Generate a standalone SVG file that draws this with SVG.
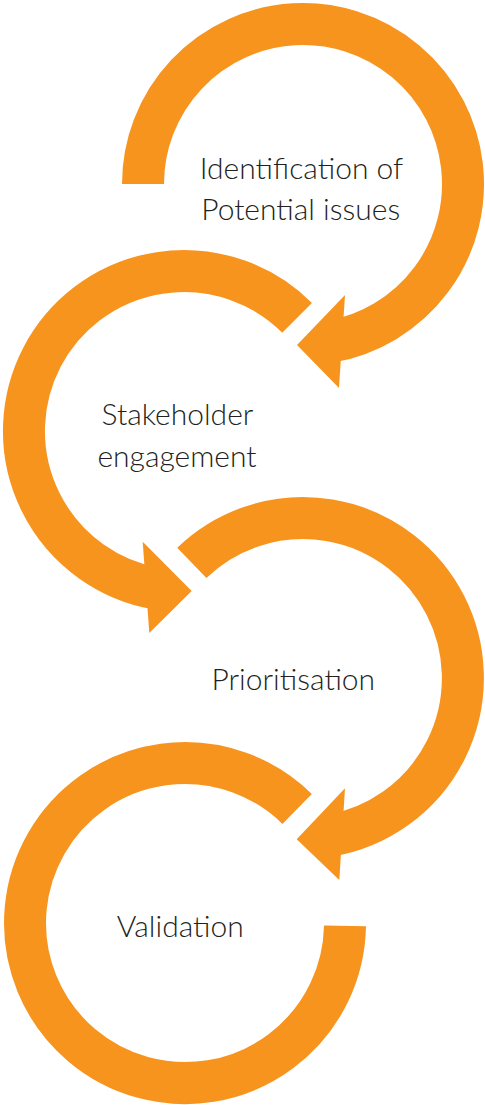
<svg xmlns="http://www.w3.org/2000/svg" width="485" height="1105" viewBox="0 0 485 1105">
<style>
.band{fill:none;stroke:#F7941E;stroke-width:42;stroke-linecap:butt}
.head{fill:#F7941E}
.lbl{font-family:Lato,"Open Sans","Liberation Sans",sans-serif;font-weight:300;font-size:30px;fill:#231F20;text-anchor:middle}
</style>
<rect width="485" height="1105" fill="#ffffff"/>
<g id="connectors">
<g id="arrow1">
<path class="band" d="M143,184 A160,160 0 1 1 330.8,341.6"/>
<polygon class="head" points="297,345 345,295 339,388"/>
</g>
<g id="arrow2">
<path class="band" d="M297.1,317.9 A160,160 0 1 0 156.2,588.6"/>
<polygon class="head" points="191.7,591 142.7,541.7 149.3,633"/>
</g>
<g id="arrow3">
<path class="band" d="M191.8,562.9 A160,160 0 1 1 330.8,835.6"/>
<polygon class="head" points="296.7,839.3 345,788.3 339.3,880"/>
</g>
<g id="arrow4">
<path class="band" d="M297.1,808.9 A160,160 0 1 0 345,925.8"/>
</g>
</g>
<g id="node1">
<text class="lbl" x="301.5" y="179">Identification of</text>
<text class="lbl" x="300.7" y="220">Potential issues</text>
</g>
<g id="node2">
<text class="lbl" x="177.5" y="425">Stakeholder</text>
<text class="lbl" x="177" y="466.7">engagement</text>
</g>
<g id="node3">
<text class="lbl" x="293.3" y="690">Prioritisation</text>
</g>
<g id="node4">
<text class="lbl" x="180.3" y="937.3">Validation</text>
</g>
</svg>
